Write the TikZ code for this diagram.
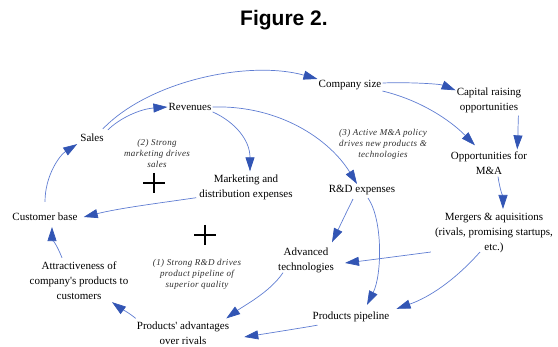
\documentclass[tikz,border=0pt]{standalone}
\usepackage{fontspec}
\setmainfont{Liberation Serif}
\newfontfamily\titlefont{Liberation Sans}
\newfontfamily\notefont[LetterSpace=4]{Liberation Serif}
\usetikzlibrary{arrows.meta}
\definecolor{lineblue}{RGB}{95,125,210}
\definecolor{headblue}{RGB}{50,85,180}
\definecolor{notegray}{RGB}{45,45,45}
\tikzset{
  lbl/.style={inner sep=1pt, align=center, font=\fontsize{11}{15}\selectfont},
  note/.style={inner sep=1pt, align=center, text=notegray, font=\notefont\itshape\fontsize{9}{11}\selectfont},
  conn/.style={draw=lineblue, line width=0.7pt, -{Triangle[length=14pt,width=9pt,color=headblue]}},
  plussign/.style={line width=1.3pt, draw=black}
}
\begin{document}
\begin{tikzpicture}[x=1pt,y=-1pt]
\useasboundingbox (0,0) rectangle (558,347);
% title
\node[inner sep=0pt, font=\titlefont\bfseries\fontsize{21}{24}\selectfont] (title) at (284,20) {Figure 2.};
% nodes
\node[lbl] (csize) at (350,85) {Company size};
\node[lbl] (cap) at (489,100) {Capital raising\\opportunities};
\node[lbl] (rev) at (190,107) {Revenues};
\node[lbl] (sales) at (92,138) {Sales};
\node[note] (note2) at (157,153) {(2) Strong\\marketing drives\\sales};
\node[lbl] (mkt) at (246,187) {Marketing and\\distribution expenses};
\node[lbl] (cb) at (45,217) {Customer base};
\node[note] (note3) at (383,144) {(3) Active M\&A policy\\drives new products \&\\technologies};
\node[lbl] (opp) at (489,163) {Opportunities for\\M\&A};
\node[lbl] (rd) at (362,190) {R\&D expenses};
\node[lbl] (merg) at (494,233) {Mergers \& aquisitions\\(rivals, promising startups,\\etc.)};
\node[note] (note1) at (197,274) {(1) Strong R\&D drives\\product pipeline of\\superior quality};
\node[lbl] (attr) at (79,281) {Attractiveness of\\company\textquotesingle s products to\\customers};
\node[lbl] (adv) at (306,260) {Advanced\\technologies};
\node[lbl] (padv) at (183,333) {Products\textquotesingle\ advantages\\over rivals};
\node[lbl] (pipe) at (351,317) {Products pipeline};
% plus signs
\draw[plussign] (143,183) -- (165,183) (154,173) -- (154,193);
\draw[plussign] (194,235) -- (216,235) (205,225) -- (205,245);
% connectors
\draw[conn] ([shift={(-2,-4)}]sales.north east) .. controls (150,80) and (250,60) .. (csize.north west);
\draw[conn] ([shift={(3,-3)}]sales.north east) .. controls (120,118) and (140,109) .. (rev.west);
\draw[conn] (rev.east) .. controls (280,105) and (330,140) .. ([shift={(-5,0)}]rd.north);
\draw[conn] (rev.south east) .. controls (235,122) and (250,140) .. ([shift={(4,-2)}]mkt.north);
\draw[conn] ([shift={(-2,-3)}]mkt.south west) .. controls (160,203) and (120,208) .. ([shift={(5,0)}]cb.east);
\draw[conn] ([shift={(0,-10)}]cb.north) .. controls (45,175) and (60,155) .. ([shift={(-2,1)}]sales.south west);
\draw[conn] ([shift={(-17,-3)}]attr.north) .. controls (57,245) and (52,238) .. ([shift={(7,5)}]cb.south);
\draw[conn] ([shift={(0,-2)}]padv.north west) .. controls (128,312) and (120,308) .. ([shift={(33,1)}]attr.south);
\draw[conn] ([shift={(6,-1)}]adv.south west) .. controls (270,292) and (245,305) .. ([shift={(-4,-2)}]padv.north east);
\draw[conn] ([shift={(6,2)}]pipe.south west) .. controls (295,329) and (270,333) .. ([shift={(14,4)}]padv.east);
\draw[conn] ([shift={(-9,3)}]rd.south) .. controls (345,215) and (338,230) .. ([shift={(-3,-4)}]adv.north east);
\draw[conn] ([shift={(6,2)}]rd.south) .. controls (383,220) and (382,275) .. ([shift={(16,-6)}]pipe.north);
\draw[conn] ([shift={(-3,-2)}]merg.south west) .. controls (400,256) and (370,260) .. ([shift={(10,3)}]adv.east);
\draw[conn] ([shift={(-14,-2)}]merg.south) .. controls (455,280) and (430,297) .. ([shift={(6,-2)}]pipe.north east);
\draw[conn] ([shift={(0,-2)}]csize.east) .. controls (410,82) and (440,84) .. ([shift={(0,4)}]cap.north west);
\draw[conn] (csize.south east) .. controls (420,100) and (450,120) .. ([shift={(-14,-5)}]opp.north);
\draw[conn] ([shift={(-4,2)}]cap.south east) .. controls (518,125) and (518,135) .. ([shift={(-11,-1)}]opp.north east);
\draw[conn] ([shift={(9,1)}]opp.south) .. controls (500,190) and (503,198) .. ([shift={(9,-3)}]merg.north);
\end{tikzpicture}
\end{document}
